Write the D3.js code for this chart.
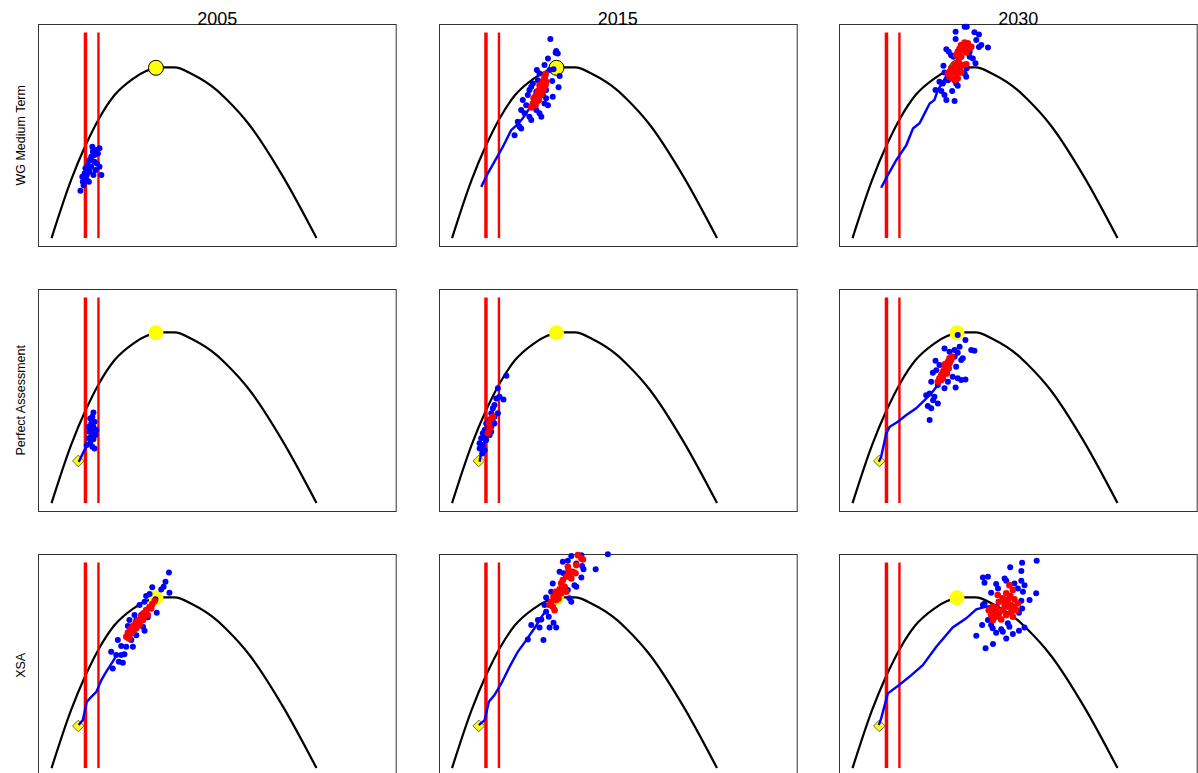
<!DOCTYPE html>
<html><head><meta charset="utf-8">
<script src="https://cdn.jsdelivr.net/npm/d3@7"></script>
<style>body{margin:0;background:#fff}svg{display:block}</style>
</head><body>
<svg id="chart" width="1198" height="773"></svg>
<script>
// ---------- data ----------
const years = ["2005", "2015", "2030"];
const methods = ["WG Medium Term", "Perfect Assessment", "XSA"];

// equilibrium yield curve (biomass, yield)
const curveX = [0, 7.4, 12.8, 18, 23.8, 30.7, 35.7, 42, 46.4, 53.3, 62.2, 66, 74.7, 87.3, 100];
const curveY = [0, 34, 54, 70, 83.5, 93, 97.5, 99.6, 99.6, 95.5, 86.5, 81, 66, 36, 0];

const refLines = [12.8, 17.7];        // Blim, Bpa
const refTop = 120;
const msyPoint = [39.4, 99.4];
const startPoint = [10.1, 24.6];
const xRange = [0, 125];
const yRange = [0, 120];

// WG Medium Term
const wg2005Blue = [[10.9,27.6],[11.8,32.9],[11.6,35.8],[12.5,37.8],[12.8,40.7],[13.3,33.9],[13.7,42.6],[14.3,45.5],[15.0,47.5],[15.4,53.3],[15.6,50.4],[16.2,48.5],[16.9,51.4],[17.5,49.4],[18.1,52.4],[17.1,43.6],[18.1,41.6],[18.8,36.8],[16.6,39.7],[15.8,36.8],[14.3,38.7],[13.3,36.8],[14.1,32.9],[15.0,41.6],[16.2,44.5],[12.1,30.9],[12.8,35.0],[15.1,45.5],[15.8,51.4],[13.6,39.7]];
const wg2005Red = [];
const wg2005Path = [];

const wg2015Blue = [[37.1,116.2],[39.3,109.2],[39.9,107.8],[39.1,108.2],[36.2,104.9],[34.9,101.0],[32.0,98.1],[33.0,96.1],[37.8,91.7],[40.6,94.6],[40.2,88.0],[38.0,82.5],[35.5,81.6],[34.9,78.6],[32.4,92.2],[30.5,90.3],[29.2,86.4],[28.6,83.5],[26.7,80.6],[28.0,77.6],[26.1,74.7],[27.4,72.8],[29.2,70.8],[29.9,68.9],[33.0,72.8],[33.7,70.8],[31.8,74.7],[25.5,65.0],[26.1,64.0],[23.6,60.1],[24.8,67.9],[35.5,86.4],[36.2,77.6],[34.3,83.5],[31.1,79.6],[29.9,88.3],[36.8,98.1],[38.3,98.5],[31.8,85.4]];
const wg2015Red = [[35.3,95.7],[34.9,93.2],[34.3,91.2],[34.0,89.3],[33.7,88.3],[33.0,86.4],[32.4,84.5],[31.8,82.5],[31.1,80.6],[30.5,78.6],[30.3,77.1],[31.5,77.6],[32.8,80.6],[33.7,83.5],[34.5,86.4],[35.3,89.3],[35.5,91.2],[32.0,79.6],[30.8,81.6],[33.0,89.3],[34.3,88.3],[29.9,76.3],[32.5,86.0],[33.5,85.0],[31.5,83.0],[34.8,92.0],[32.2,82.0],[33.3,87.5],[31.2,78.5],[35.0,94.5]];
const wg2015Path = [[11.0,29.9],[13.5,37.8],[16.7,46.5],[19.2,53.3],[22.3,63.0],[24.5,66.0],[26.7,69.9],[29.2,75.7],[31.8,82.5],[34.3,90.3]];

const wg2030Blue = [[42.3,123.4],[43.1,123.4],[38.9,120.4],[46.0,120.1],[47.7,118.9],[38.9,116.2],[46.7,115.6],[48.6,112.7],[51.1,111.3],[35.4,110.3],[36.3,108.8],[37.2,106.8],[38.1,105.8],[44.2,108.8],[45.4,104.9],[46.4,102.0],[34.3,100.6],[34.7,96.7],[32.8,91.2],[31.3,86.4],[33.5,85.8],[34.7,83.5],[35.4,80.6],[38.5,80.0],[37.6,85.8],[39.1,90.3],[39.7,88.9],[42.9,94.2],[42.3,96.1],[41.0,101.0],[43.1,99.1],[34.1,90.3],[36.0,92.2],[44.2,105.8],[47.7,111.6],[44.8,111.6]];
const wg2030Red = [[41.0,112.7],[42.3,114.2],[43.5,113.7],[44.8,111.7],[40.4,110.7],[39.7,108.8],[39.1,106.8],[41.0,105.8],[42.9,108.4],[41.6,109.7],[40.1,104.5],[44.2,110.7],[38.5,101.0],[37.2,99.1],[36.6,97.1],[37.8,95.2],[39.1,96.1],[40.4,99.1],[41.6,101.0],[42.9,101.4],[39.7,93.2],[38.5,92.2],[41.0,96.7],[36.6,94.2],[36.0,96.1],[40.2,107.5],[42.0,111.8],[39.8,102.5],[38.0,98.0],[40.0,97.5],[37.5,93.5]];
const wg2030Path = [[10.8,29.4],[13.3,36.8],[16.5,45.5],[20.3,54.3],[22.8,64.0],[25.3,67.0],[27.2,72.8],[29.1,78.6],[30.9,80.6],[32.2,86.4],[34.1,91.2],[36.0,96.1],[37.2,99.1]];

// Perfect Assessment
const pa2005Blue = [[15.8,52.9],[15.4,50.4],[14.6,49.4],[16.2,47.5],[15.0,46.5],[14.1,44.5],[15.8,44.5],[16.9,42.6],[14.3,41.6],[15.6,40.7],[16.6,39.7],[15.0,38.7],[14.1,37.8],[15.8,37.2],[14.6,34.9],[15.4,32.9],[13.3,33.9],[16.2,31.9],[15.1,43.6],[16.1,41.6]];
const pa2005Red = [];
const pa2005Path = [[10.2,24.1],[10.6,25.1],[11.8,29.0],[13.1,32.9]];

const pa2015Blue = [[20.5,74.3],[17.3,67.0],[19.4,60.5],[17.9,62.1],[16.7,61.1],[16.0,57.2],[15.4,55.3],[17.3,52.4],[14.8,52.4],[16.0,50.4],[14.2,48.5],[15.4,47.5],[12.9,46.5],[13.5,43.6],[12.3,42.6],[11.6,40.7],[12.6,38.7],[11.0,37.8],[10.4,34.9],[11.6,33.9],[10.4,31.9],[12.3,30.9],[14.8,44.5],[16.0,46.5],[14.2,39.7],[11.4,29.0],[12.9,36.8],[14.8,41.6]];
const pa2015Red = [[14.8,49.4],[13.9,46.5],[13.5,40.7],[14.2,43.6],[15.4,50.4]];
const pa2015Path = [[10.4,24.1],[11.0,29.5],[12.0,35.0],[13.0,40.0],[14.0,45.0],[15.0,49.0]];

const pa2030Blue = [[39.7,98.1],[42.6,95.2],[34.7,90.3],[36.6,88.3],[38.5,89.3],[40.4,91.2],[39.7,87.7],[41.6,84.5],[44.8,89.3],[46.0,88.9],[31.3,83.1],[32.8,80.6],[31.6,77.6],[30.3,76.1],[29.7,70.8],[32.8,71.8],[34.1,72.8],[36.0,70.8],[37.8,73.7],[39.7,72.8],[41.0,71.8],[42.6,72.2],[38.9,67.5],[34.7,67.0],[32.2,68.9],[27.8,63.0],[29.1,64.0],[30.9,62.1],[28.4,56.6],[29.7,55.3],[32.2,58.2],[29.1,48.5],[30.4,60.1],[41.0,83.5],[39.1,79.6],[38.5,85.4]];
const pa2030Red = [[36.6,84.5],[36.0,82.5],[35.4,80.6],[34.7,78.6],[34.1,76.7],[33.5,74.7],[32.8,72.8],[32.2,70.8],[35.1,77.6],[36.0,79.6],[36.6,81.6],[37.2,83.5],[35.6,75.7],[34.1,73.7],[33.5,71.8],[36.3,78.6],[37.5,85.5],[34.8,81.0]];
const pa2030Path = [[9.9,24.1],[10.8,27.0],[12.7,40.7],[14.0,44.5],[17.1,47.5],[20.3,51.4],[24.0,55.3],[27.2,60.1],[29.7,64.0],[32.2,68.9],[34.1,73.7]];

// XSA
const xsa2005Blue = [[44.3,114.2],[43.0,108.8],[42.3,105.8],[44.5,102.3],[41.4,104.3],[38.0,105.5],[37.0,101.6],[35.7,100.4],[35.1,97.1],[39.2,98.5],[39.7,90.7],[36.3,88.0],[33.8,89.3],[32.0,86.4],[29.4,86.4],[28.8,82.9],[30.7,81.6],[34.5,82.5],[35.1,80.2],[32.0,77.6],[30.1,74.7],[25.0,74.7],[26.3,71.2],[28.2,70.8],[30.7,70.8],[22.5,67.9],[24.4,66.0],[26.3,66.0],[27.5,66.5],[25.4,62.1],[26.9,61.5],[23.1,58.2],[33.2,95.2],[31.3,89.3]];
const xsa2005Red = [[38.9,97.5],[38.0,95.7],[37.0,94.2],[35.7,92.2],[34.7,90.3],[33.8,88.3],[32.6,86.4],[31.7,84.5],[30.7,82.9],[29.7,81.0],[28.8,79.0],[28.2,76.6],[30.1,78.6],[32.0,81.6],[33.2,83.5],[34.5,86.4],[36.3,89.3],[37.6,93.2],[29.2,75.7],[35.2,88.8],[33.0,85.0],[31.0,80.5]];
const xsa2005Path = [[10.2,25.1],[11.8,28.0],[13.3,38.7],[15.0,41.6],[16.9,44.5],[18.8,51.4],[20.6,56.2],[23.1,62.1],[25.0,67.0]];

const xsa2015Blue = [[45.0,123.8],[48.8,124.3],[58.8,124.9],[41.8,120.4],[43.7,121.0],[46.9,119.5],[49.1,117.9],[49.6,116.0],[54.2,116.0],[40.6,114.6],[42.1,113.7],[46.2,106.8],[46.9,105.8],[38.0,107.8],[37.4,102.9],[35.5,99.6],[34.9,95.2],[35.5,91.2],[36.5,88.3],[33.7,86.8],[32.4,86.4],[29.9,83.5],[33.0,82.1],[36.8,82.1],[38.3,84.8],[39.3,82.1],[34.5,74.7],[28.6,75.1],[45.0,97.1],[44.3,99.1],[43.7,103.9],[48.8,111.3]];
const xsa2015Red = [[47.5,124.3],[48.8,122.4],[46.9,118.5],[43.7,117.5],[45.6,114.6],[44.3,112.7],[45.0,110.7],[43.1,111.7],[41.8,109.7],[41.2,107.8],[42.5,105.8],[40.6,104.3],[39.1,102.9],[39.9,101.0],[38.3,100.0],[37.4,97.1],[38.0,94.2],[38.7,92.2],[36.8,95.2],[41.2,102.0],[43.1,102.9],[39.3,98.1],[49.4,121.8],[46.6,113.7],[40.2,99.0],[42.0,104.5],[44.0,115.5]];
const xsa2015Path = [[10.1,25.1],[12.3,28.0],[13.9,38.7],[16.0,42.6],[18.6,49.4],[21.7,59.1],[24.8,67.9],[28.0,74.7],[31.1,81.6],[33.0,86.4],[35.5,92.2]];

const xsa2030Blue = [[69.5,121.0],[64.0,119.9],[59.5,117.2],[63.7,115.0],[49.2,111.3],[51.1,111.7],[49.8,108.2],[57.4,110.7],[54.2,107.4],[58.0,109.3],[61.1,107.8],[63.7,109.3],[64.9,106.8],[64.3,102.9],[69.3,102.0],[66.8,98.1],[63.7,97.7],[64.0,93.2],[62.8,90.7],[64.9,82.1],[62.8,80.2],[60.5,78.2],[58.0,75.7],[56.7,79.6],[56.1,81.0],[54.2,79.0],[52.9,81.6],[52.3,83.5],[48.9,83.5],[46.7,77.2],[50.2,69.9],[53.0,72.4],[51.1,86.4],[58.6,84.5],[59.2,82.5],[49.2,95.2],[49.8,96.1],[52.3,102.3],[54.9,104.9],[62.4,104.9]];
const xsa2030Red = [[59.2,106.8],[60.5,103.9],[58.0,102.0],[54.8,101.0],[56.7,99.1],[58.6,98.1],[61.1,98.5],[62.4,96.1],[59.9,95.2],[57.4,95.2],[55.2,97.1],[52.9,94.2],[51.4,92.2],[52.3,89.3],[54.2,88.3],[56.1,86.8],[58.0,89.3],[59.9,91.2],[61.8,92.2],[60.5,88.3],[54.2,93.2],[56.7,92.2],[58.6,94.2],[55.3,90.3],[53.0,86.4],[59.5,100.5],[57.5,97.0],[53.5,91.0],[60.8,94.0]];
const xsa2030Path = [[9.9,25.1],[10.8,29.0],[13.3,43.6],[17.1,47.9],[22.2,54.3],[26.5,60.1],[31.6,70.8],[37.8,82.1],[42.9,87.4],[46.7,92.6],[50.5,94.2],[55.5,95.2]];

// ---------- drawing ----------
const panels = [
  {r:0,c:0,blue:wg2005Blue,red:wg2005Red,path:wg2005Path,start:false,ring:true},
  {r:0,c:1,blue:wg2015Blue,red:wg2015Red,path:wg2015Path,start:false,ring:true},
  {r:0,c:2,blue:wg2030Blue,red:wg2030Red,path:wg2030Path,start:false,ring:true},
  {r:1,c:0,blue:pa2005Blue,red:pa2005Red,path:pa2005Path,start:true,ring:false},
  {r:1,c:1,blue:pa2015Blue,red:pa2015Red,path:pa2015Path,start:true,ring:false},
  {r:1,c:2,blue:pa2030Blue,red:pa2030Red,path:pa2030Path,start:true,ring:false},
  {r:2,c:0,blue:xsa2005Blue,red:xsa2005Red,path:xsa2005Path,start:true,ring:false},
  {r:2,c:1,blue:xsa2015Blue,red:xsa2015Red,path:xsa2015Path,start:true,ring:false},
  {r:2,c:2,blue:xsa2030Blue,red:xsa2030Red,path:xsa2030Path,start:true,ring:false}
];

const svg = d3.select("#chart");
const W = 357.7, H = 222;
const FONT = "'Liberation Sans', Arial, Helvetica, sans-serif";
const expand = (rng) => { const d = (rng[1]-rng[0])*0.04; return [rng[0]-d, rng[1]+d]; };
const curveData = curveX.map((v,i)=>[v, curveY[i]]);

panels.forEach(p => {
  const left = 38.3 + 400.5*p.c, top = 24.3 + 265*p.r;
  const x = d3.scaleLinear().domain(expand(xRange)).range([left, left+W]);
  const y = d3.scaleLinear().domain(expand(yRange)).range([top+H, top]);
  const g = svg.append("g");

  g.append("rect").attr("x", Math.round(left)+0.5).attr("y", Math.round(top)+0.5)
    .attr("width", W).attr("height", H).attr("fill","none").attr("stroke","#333").attr("stroke-width",1);

  const line = d3.line().x(d=>x(d[0])).y(d=>y(d[1]));
  g.append("path").datum(curveData)
    .attr("d", line.curve(d3.curveMonotoneX))
    .attr("fill","none").attr("stroke","#000").attr("stroke-width",2.2);

  refLines.forEach((v,i)=>{
    g.append("line").attr("x1",x(v)).attr("x2",x(v)).attr("y1",y(0)).attr("y2",y(refTop))
      .attr("stroke","#ff0000").attr("stroke-width", i===0 ? 3.5 : 2.4);
  });

  g.append("circle").attr("cx",x(msyPoint[0])).attr("cy",y(msyPoint[1])).attr("r",7.5)
    .attr("fill","#ffff00").attr("stroke", p.ring ? "#000" : "none").attr("stroke-width",1);

  if (p.start) {
    const sx = x(startPoint[0]), sy = y(startPoint[1]), s = 5.8;
    g.append("path").attr("d", `M${sx},${sy-s}L${sx+s},${sy}L${sx},${sy+s}L${sx-s},${sy}Z`)
      .attr("fill","#ffff00").attr("stroke","#444").attr("stroke-width",0.8);
  }

  if (p.path.length) {
    g.append("path").datum(p.path).attr("d", d3.line().x(d=>x(d[0])).y(d=>y(d[1])))
      .attr("fill","none").attr("stroke","#0000ff").attr("stroke-width",2.4);
  }

  g.selectAll("circle.blue").data(p.blue).join("circle").attr("class","blue")
    .attr("cx",d=>x(d[0])).attr("cy",d=>y(d[1])).attr("r",3.0).attr("fill","#0000ff");
  g.selectAll("circle.red").data(p.red).join("circle").attr("class","red")
    .attr("cx",d=>x(d[0])).attr("cy",d=>y(d[1])).attr("r",3.3).attr("fill","#ff0000");

  if (p.r === 0) {
    svg.append("text").attr("x", left + W/2).attr("y", top + 0.8)
      .attr("text-anchor","middle").attr("font-family",FONT).attr("font-size",18)
      .attr("fill","#000").text(years[p.c]);
  }
  if (p.c === 0) {
    svg.append("text").attr("transform", `translate(24.5,${top + H/2}) rotate(-90)`)
      .attr("text-anchor","middle").attr("font-family",FONT).attr("font-size",12.5)
      .attr("fill","#000").text(methods[p.r]);
  }
});
</script>
</body></html>
